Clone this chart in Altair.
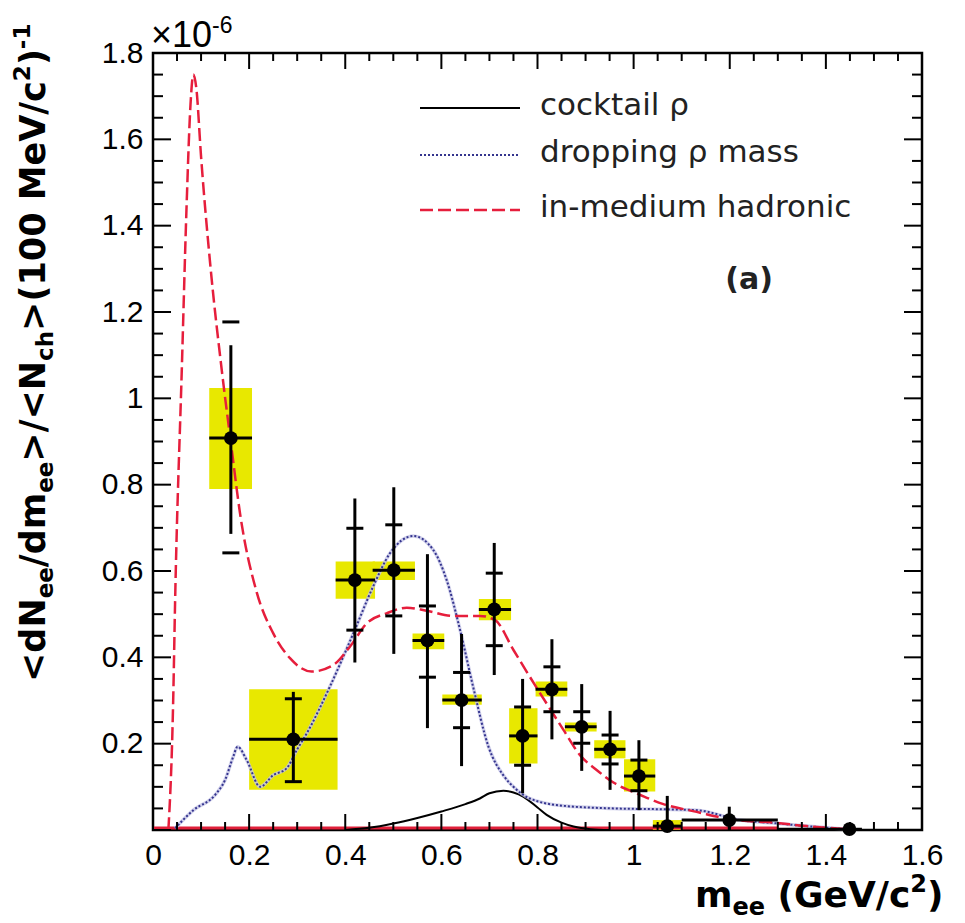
import altair as alt
import pandas as pd

# ---------------- data (dielectron yield, units of 1e-6) ----------------
mass = [0.162, 0.292, 0.420, 0.501, 0.571, 0.642, 0.710, 0.769, 0.830, 0.892, 0.951, 1.011, 1.070, 1.199, 1.449]
yld = [0.908, 0.210, 0.579, 0.602, 0.439, 0.301, 0.511, 0.218, 0.326, 0.239, 0.187, 0.125, 0.009, 0.023, 0.002]
bin_lo = [0.117, 0.200, 0.380, 0.457, 0.540, 0.602, 0.678, 0.741, 0.796, 0.857, 0.918, 0.980, 1.040, 1.100, 1.300]
bin_hi = [0.206, 0.384, 0.462, 0.545, 0.606, 0.684, 0.745, 0.800, 0.862, 0.923, 0.983, 1.045, 1.100, 1.300, 1.475]
stat_lo = [0.686, 0.110, 0.388, 0.408, 0.236, 0.148, 0.359, 0.085, 0.210, 0.137, 0.093, 0.046, 0.000, 0.000, 0.000]
stat_hi = [1.123, 0.320, 0.768, 0.794, 0.639, 0.454, 0.665, 0.350, 0.442, 0.338, 0.276, 0.208, 0.079, 0.054, 0.004]
cap_lo = [0.642, 0.112, 0.463, 0.496, 0.354, 0.237, 0.427, 0.150, 0.274, 0.201, 0.153, 0.091, None, None, None]
cap_hi = [1.177, 0.304, 0.699, 0.707, 0.519, 0.365, 0.595, 0.285, 0.378, 0.274, 0.220, 0.162, None, None, None]
sys_lo = [0.790, 0.093, 0.536, 0.579, 0.419, 0.290, 0.486, 0.154, 0.309, 0.228, 0.166, 0.089, 0.000, None, None]
sys_hi = [1.024, 0.326, 0.622, 0.622, 0.455, 0.314, 0.535, 0.282, 0.344, 0.249, 0.208, 0.164, 0.023, None, None]

# cocktail rho (black solid)
cocktail_x = [0.40, 0.45, 0.50, 0.55, 0.60, 0.65, 0.68, 0.70, 0.729, 0.75, 0.771, 0.80, 0.819, 0.85, 0.875, 0.91, 0.95]
cocktail_y = [0.000, 0.005, 0.015, 0.028, 0.043, 0.060, 0.073, 0.085, 0.091, 0.087, 0.077, 0.052, 0.035, 0.017, 0.008, 0.002, 0.000]

# dropping rho mass (blue dotted)
drop_x = [0.046, 0.084, 0.129, 0.150, 0.167, 0.176, 0.195, 0.223, 0.250, 0.278, 0.299, 0.320, 0.368, 0.417, 0.458,
          0.493, 0.542, 0.583, 0.611, 0.639, 0.666, 0.698, 0.730, 0.750, 0.784, 0.854, 0.958, 1.062, 1.131, 1.221,
          1.291, 1.360, 1.443]
drop_y = [0.004, 0.046, 0.081, 0.116, 0.170, 0.193, 0.162, 0.100, 0.127, 0.143, 0.185, 0.224, 0.332, 0.456, 0.564,
          0.641, 0.681, 0.649, 0.579, 0.463, 0.332, 0.193, 0.125, 0.100, 0.073, 0.056, 0.050, 0.048, 0.046, 0.023,
          0.016, 0.009, 0.002]

# in-medium hadronic (red dashed)
had_x = [0.032, 0.042, 0.046, 0.060, 0.070, 0.078, 0.084, 0.090, 0.100, 0.120, 0.143, 0.164, 0.181, 0.216, 0.250,
         0.285, 0.330, 0.375, 0.410, 0.445, 0.486, 0.528, 0.569, 0.625, 0.680, 0.712, 0.750, 0.784, 0.819, 0.854,
         0.888, 0.923, 0.958, 1.006, 1.062, 1.131, 1.200, 1.291, 1.360, 1.443]
had_y = [0.000, 0.300, 0.530, 1.070, 1.450, 1.680, 1.750, 1.720, 1.560, 1.300, 1.066, 0.880, 0.734, 0.550, 0.456,
         0.398, 0.367, 0.382, 0.425, 0.479, 0.502, 0.515, 0.508, 0.496, 0.496, 0.486, 0.417, 0.355, 0.293, 0.232,
         0.174, 0.139, 0.110, 0.085, 0.060, 0.042, 0.025, 0.017, 0.009, 0.002]

# red baseline histogram at zero
floor_x = [0.0, 1.3]
floor_y = [0.0, 0.0]

legend_labels = ["cocktail \u03c1", "dropping \u03c1 mass", "in-medium hadronic"]

x_major = [round(0.2 * i, 2) for i in range(9)]
x_minor = [round(0.05 * i, 2) for i in range(33) if i % 4 != 0]
y_major = [round(0.2 * i, 2) for i in range(10)]
y_minor = [round(0.05 * i, 2) for i in range(37) if i % 4 != 0]
y_labels = [round(0.2 * i, 2) for i in range(1, 10)]

# ---------------- layout ----------------
W, H = 769, 777
xs = alt.Scale(domain=[0, 1.6], nice=False, zero=False)
ys = alt.Scale(domain=[0, 1.8], nice=False, zero=False)
fmt = "format(datum.value, '.1~f')"
xa = alt.Axis(values=x_major, labelExpr=fmt, labelFont="Liberation Sans", labelFontSize=30,
              labelColor="black", labelPadding=10, labelFlush=False, domain=False, ticks=False,
              grid=False, title=None, labelOverlap=False)
ya = alt.Axis(values=y_labels, labelExpr=fmt, labelFont="Liberation Sans", labelFontSize=30,
              labelColor="black", labelPadding=10, labelFlush=False, domain=False, ticks=False,
              grid=False, title=None, labelOverlap=False)

pts = pd.DataFrame(dict(x=mass, y=yld, lo=bin_lo, hi=bin_hi, slo=stat_lo, shi=stat_hi,
                        clo=cap_lo, chi=cap_hi, ylo=sys_lo, yhi=sys_hi))


def X(f):
    return alt.X(f, type="quantitative", scale=xs, axis=xa)


def Y(f):
    return alt.Y(f, type="quantitative", scale=ys, axis=ya)


layers = []

# systematic boxes
layers.append(alt.Chart(pts).mark_rect(color="#e8e800").encode(
    x=X("lo"), x2="hi", y=Y("ylo"), y2="yhi"))

# red zero baseline
layers.append(alt.Chart(pd.DataFrame(dict(x=floor_x, y=floor_y))).mark_line(
    color="#e0203a", strokeWidth=3, yOffset=-2).encode(x=X("x"), y=Y("y")))

# curves
layers.append(alt.Chart(pd.DataFrame(dict(x=cocktail_x, y=cocktail_y))).mark_line(
    color="black", strokeWidth=2, interpolate="monotone").encode(x=X("x"), y=Y("y")))
drop_df = pd.DataFrame(dict(x=drop_x, y=drop_y))
layers.append(alt.Chart(drop_df).mark_line(
    color="#c4c4e6", strokeWidth=3.5, interpolate="monotone", opacity=0.8).encode(x=X("x"), y=Y("y")))
layers.append(alt.Chart(drop_df).mark_line(
    color="#34348e", strokeWidth=2, strokeDash=[2, 2], interpolate="monotone").encode(x=X("x"), y=Y("y")))
layers.append(alt.Chart(pd.DataFrame(dict(x=had_x, y=had_y))).mark_line(
    color="#e61e3c", strokeWidth=2.5, strokeDash=[13, 5], interpolate="monotone").encode(x=X("x"), y=Y("y")))

# error bars
layers.append(alt.Chart(pts).mark_rule(color="black", strokeWidth=3).encode(
    x=X("x"), y=Y("slo"), y2="shi"))
layers.append(alt.Chart(pts).mark_rule(color="black", strokeWidth=3).encode(
    x=X("lo"), x2="hi", y=Y("y")))
layers.append(alt.Chart(pts).mark_tick(color="black", orient="horizontal", size=17, thickness=3,
                                       opacity=1).encode(x=X("x"), y=Y("clo")))
layers.append(alt.Chart(pts).mark_tick(color="black", orient="horizontal", size=17, thickness=3,
                                       opacity=1).encode(x=X("x"), y=Y("chi")))
layers.append(alt.Chart(pts).mark_circle(color="black", size=190, opacity=1).encode(
    x=X("x"), y=Y("y")))


# inward ticks
def tick_layer(vals, side, length):
    d = pd.DataFrame({"v": vals})
    m = alt.Chart(d).mark_rule(color="black", strokeWidth=2)
    if side == "bottom":
        return m.encode(x=X("v"), y=alt.value(H), y2=alt.value(H - length))
    if side == "top":
        return m.encode(x=X("v"), y=alt.value(0), y2=alt.value(length))
    if side == "left":
        return m.encode(y=Y("v"), x=alt.value(0), x2=alt.value(length))
    return m.encode(y=Y("v"), x=alt.value(W), x2=alt.value(W - length))


for side in ["bottom", "top"]:
    layers.append(tick_layer(x_major, side, 16))
    layers.append(tick_layer(x_minor, side, 8))
for side in ["left", "right"]:
    layers.append(tick_layer(y_major, side, 18))
    layers.append(tick_layer(y_minor, side, 10))

one = alt.Data(values=[{"k": 0}])

# legend
legend_styles = [dict(color="black", strokeWidth=2),
                 dict(color="#34348e", strokeWidth=2, strokeDash=[2, 2]),
                 dict(color="#e61e3c", strokeWidth=2.5, strokeDash=[13, 5])]
legend_y = [55, 102, 157]
for lab, sty, ly in zip(legend_labels, legend_styles, legend_y):
    layers.append(alt.Chart(one).mark_rule(**sty).encode(
        x=alt.value(267), x2=alt.value(367), y=alt.value(ly)))
    layers.append(alt.Chart(one).mark_text(
        text=lab, font="DejaVu Sans", fontSize=31, color="#222222", align="left", baseline="middle").encode(
        x=alt.value(387), y=alt.value(ly - 2)))

# panel label
layers.append(alt.Chart(one).mark_text(
    text="(a)", font="DejaVu Sans", fontWeight="bold", fontSize=30, color="#222222",
    align="center", baseline="middle").encode(x=alt.value(596), y=alt.value(227)))

# rich text helper
DVB = {' ': 0.348, '(': 0.457, ')': 0.457, '-': 0.415, '/': 0.365, '<': 0.838, '>': 0.838,
       '0': 0.696, '1': 0.696, '2': 0.696, 'G': 0.821, 'M': 0.995, 'N': 0.837, 'V': 0.774,
       'c': 0.593, 'd': 0.716, 'e': 0.678, 'h': 0.712, 'm': 1.042}
LSR = {'\u00d7': 0.584, '1': 0.556, '0': 0.556, '-': 0.333, '6': 0.556}


def rich(segs, x, y, angle, font, weight, table):
    out = []
    adv = 0.0
    for txt, size, shift in segs:
        lead = len(txt) - len(txt.lstrip(" "))
        adv += lead * table.get(" ", 0.3) * size
        body = txt.lstrip(" ")
        out.append(alt.Chart(one).mark_text(
            text=body, font=font, fontWeight=weight, fontSize=size, color="black", align="left",
            baseline="alphabetic", angle=angle, dx=adv, dy=shift).encode(x=alt.value(x), y=alt.value(y)))
        adv += sum(table.get(c, 0.6) for c in body) * size
    return out


# y-axis title
layers += rich([("<dN", 35, 0), ("ee", 23, 8), ("/dm", 35, 0), ("ee", 23, 8), (">/<N", 35, 0),
                ("ch", 23, 8), (">(100 MeV/c", 35, 0), ("2", 23, -15), (")", 35, 0), ("-1", 23, -15)],
               -108, 629, 270, "DejaVu Sans", "bold", DVB)
# x-axis title
layers += rich([("m", 36, 0), ("ee", 24, 8), (" (GeV/c", 36, 0), ("2", 24, -15), (")", 36, 0)],
               542, 854, 0, "DejaVu Sans", "bold", DVB)
# exponent
layers += rich([("\u00d710", 36, 0), ("-6", 23, -14)], -2, -6, 0, "Liberation Sans", "normal", LSR)

chart = alt.layer(*layers).properties(
    width=W, height=H,
    autosize=alt.AutoSizeParams(type="none"),
    padding={"left": 153, "top": 53, "right": 43, "bottom": 93},
    background="white",
).configure_view(stroke="black", strokeWidth=2.5)

chart.save("out.html", embed_options={"renderer": "svg", "actions": False})
